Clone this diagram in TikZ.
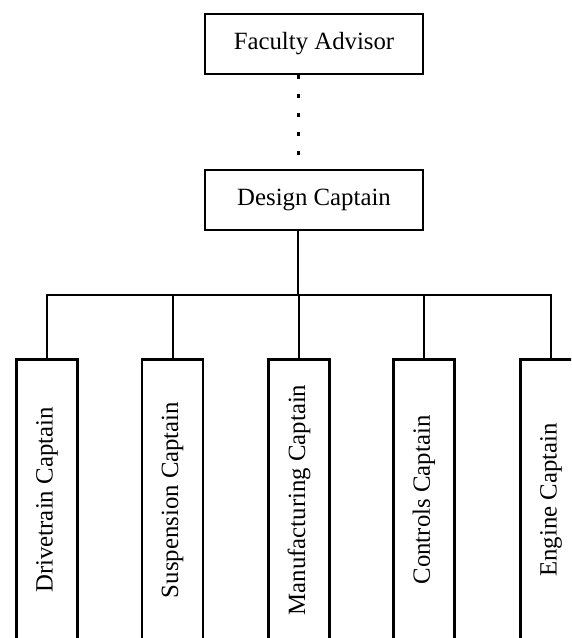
\documentclass[tikz,border=0pt]{standalone}
\usepackage{fontspec}
\setmainfont{Liberation Serif}
\begin{document}
\begin{tikzpicture}[x=1pt,y=1pt,
  topbox/.style={draw=black, line width=2.8pt, fill=white, minimum width=218pt, minimum height=60pt, inner sep=0pt,
    font=\fontsize{24.8}{29}\selectfont},
  childbox/.style={draw=black, line width=2.8pt, fill=white, rotate=90, minimum width=281pt, minimum height=61pt, inner sep=0pt,
    font=\fontsize{24.8}{29}\selectfont},
  conn/.style={line width=2pt},
  dots/.style={line width=3pt, dash pattern=on 4pt off 15pt}]
\useasboundingbox (0,0) rectangle (571,638);
\clip (0,0) rectangle (571,638);
% top boxes
\node[topbox] (fa) at (314,594) {Faculty Advisor};
\node[topbox] (dc) at (314,438) {Design Captain};
\coordinate (vx) at (298,0);
\coordinate (bus) at (0,343);
% children
\node[childbox] (c1) at (47,138) {Drivetrain Captain};
\node[childbox] (c2) at (172.5,138) {Suspension Captain};
\node[childbox] (c3) at (299,138) {Manufacturing Captain};
\node[childbox] (c4) at (424,138) {Controls Captain};
\node[childbox] (c5) at (551,138) {Engine Captain};
% connectors
\draw[dots] (fa.south -| vx) -- (dc.north -| vx);
\draw[conn] (dc.south -| vx) -- (bus -| vx);
\draw[conn] (c1.east) -- (c1.east |- bus) -- (c5.east |- bus) -- (c5.east);
\draw[conn] (c2.east) -- (c2.east |- bus);
\draw[conn] (c3.east) -- (c3.east |- bus);
\draw[conn] (c4.east) -- (c4.east |- bus);
\end{tikzpicture}
\end{document}
